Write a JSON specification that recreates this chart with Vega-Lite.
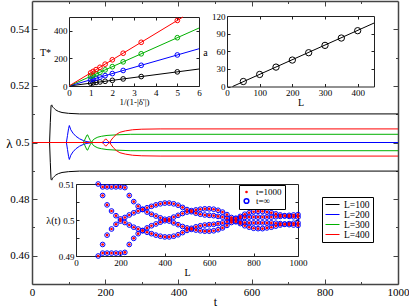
{
"$schema":"https://vega.github.io/schema/vega-lite/v6.json",
"width":366,"height":283,
"autosize":{"type":"none"},
"padding":{"left":32,"top":1,"right":11,"bottom":23},
"background":"white",
"config":{
 "view":{"stroke":null},
 "font":"Liberation Serif",
 "axis":{"labelFont":"Liberation Serif","titleFont":"Liberation Serif","labelColor":"#000","titleColor":"#000","titleFontWeight":"normal","grid":false,"labelFlush":false,"labelOverlap":false},
 "legend":{"labelFont":"Liberation Serif","labelColor":"#000"}
},
"datasets":{
 "main":[
  {"s":"L=100","b":"u","t":0,"v":0.5},{"s":"L=100","b":"u","t":48,"v":0.5},{"s":"L=100","b":"u","t":50,"v":0.507},{"s":"L=100","b":"u","t":52,"v":0.513},{"s":"L=100","b":"u","t":54,"v":0.5133},{"s":"L=100","b":"u","t":56,"v":0.5126},{"s":"L=100","b":"u","t":58,"v":0.5124},{"s":"L=100","b":"u","t":61,"v":0.512},{"s":"L=100","b":"u","t":65,"v":0.5115},{"s":"L=100","b":"u","t":72,"v":0.511},{"s":"L=100","b":"u","t":82,"v":0.5106},{"s":"L=100","b":"u","t":100,"v":0.5103},{"s":"L=100","b":"u","t":130,"v":0.5101},{"s":"L=100","b":"u","t":1000,"v":0.5101},
  {"s":"L=100","b":"d","t":0,"v":0.5},{"s":"L=100","b":"d","t":48,"v":0.5},{"s":"L=100","b":"d","t":50,"v":0.493},{"s":"L=100","b":"d","t":52,"v":0.487},{"s":"L=100","b":"d","t":54,"v":0.4867},{"s":"L=100","b":"d","t":56,"v":0.4874},{"s":"L=100","b":"d","t":58,"v":0.4876},{"s":"L=100","b":"d","t":61,"v":0.488},{"s":"L=100","b":"d","t":65,"v":0.4885},{"s":"L=100","b":"d","t":72,"v":0.489},{"s":"L=100","b":"d","t":82,"v":0.4894},{"s":"L=100","b":"d","t":100,"v":0.4897},{"s":"L=100","b":"d","t":130,"v":0.4899},{"s":"L=100","b":"d","t":1000,"v":0.4899},
  {"s":"L=200","b":"u","t":0,"v":0.5},{"s":"L=200","b":"u","t":94,"v":0.5},{"s":"L=200","b":"u","t":97,"v":0.5025},{"s":"L=200","b":"u","t":100,"v":0.505},{"s":"L=200","b":"u","t":102,"v":0.506},{"s":"L=200","b":"u","t":106,"v":0.5045},{"s":"L=200","b":"u","t":112,"v":0.5033},{"s":"L=200","b":"u","t":120,"v":0.5022},{"s":"L=200","b":"u","t":130,"v":0.5013},{"s":"L=200","b":"u","t":140,"v":0.5007},{"s":"L=200","b":"u","t":150,"v":0.5003},{"s":"L=200","b":"u","t":160,"v":0.5001},{"s":"L=200","b":"u","t":165,"v":0.5},{"s":"L=200","b":"u","t":1000,"v":0.5},
  {"s":"L=200","b":"d","t":0,"v":0.5},{"s":"L=200","b":"d","t":94,"v":0.5},{"s":"L=200","b":"d","t":97,"v":0.4975},{"s":"L=200","b":"d","t":100,"v":0.495},{"s":"L=200","b":"d","t":102,"v":0.494},{"s":"L=200","b":"d","t":106,"v":0.4955},{"s":"L=200","b":"d","t":112,"v":0.4967},{"s":"L=200","b":"d","t":120,"v":0.4978},{"s":"L=200","b":"d","t":130,"v":0.4987},{"s":"L=200","b":"d","t":140,"v":0.4993},{"s":"L=200","b":"d","t":150,"v":0.4997},{"s":"L=200","b":"d","t":160,"v":0.4999},{"s":"L=200","b":"d","t":165,"v":0.5},{"s":"L=200","b":"d","t":1000,"v":0.5},
  {"s":"L=300","b":"u","t":0,"v":0.5},{"s":"L=300","b":"u","t":140,"v":0.5},{"s":"L=300","b":"u","t":145,"v":0.5012},{"s":"L=300","b":"u","t":150,"v":0.5026},{"s":"L=300","b":"u","t":152,"v":0.5027},{"s":"L=300","b":"u","t":155,"v":0.5018},{"s":"L=300","b":"u","t":159,"v":0.5008},{"s":"L=300","b":"u","t":163,"v":0.5},{"s":"L=300","b":"u","t":166,"v":0.5008},{"s":"L=300","b":"u","t":172,"v":0.5014},{"s":"L=300","b":"u","t":180,"v":0.5019},{"s":"L=300","b":"u","t":190,"v":0.5022},{"s":"L=300","b":"u","t":205,"v":0.5025},{"s":"L=300","b":"u","t":230,"v":0.5027},{"s":"L=300","b":"u","t":270,"v":0.5029},{"s":"L=300","b":"u","t":1000,"v":0.5029},
  {"s":"L=300","b":"d","t":0,"v":0.5},{"s":"L=300","b":"d","t":140,"v":0.5},{"s":"L=300","b":"d","t":145,"v":0.4988},{"s":"L=300","b":"d","t":150,"v":0.4974},{"s":"L=300","b":"d","t":152,"v":0.4973},{"s":"L=300","b":"d","t":155,"v":0.4982},{"s":"L=300","b":"d","t":159,"v":0.4992},{"s":"L=300","b":"d","t":163,"v":0.5},{"s":"L=300","b":"d","t":166,"v":0.4992},{"s":"L=300","b":"d","t":172,"v":0.4986},{"s":"L=300","b":"d","t":180,"v":0.4981},{"s":"L=300","b":"d","t":190,"v":0.4978},{"s":"L=300","b":"d","t":205,"v":0.4975},{"s":"L=300","b":"d","t":230,"v":0.4973},{"s":"L=300","b":"d","t":270,"v":0.4971},{"s":"L=300","b":"d","t":1000,"v":0.4971},
  {"s":"L=400","b":"u","t":0,"v":0.5},{"s":"L=400","b":"u","t":192,"v":0.5},{"s":"L=400","b":"u","t":196,"v":0.5006},{"s":"L=400","b":"u","t":200,"v":0.5011},{"s":"L=400","b":"u","t":203,"v":0.5012},{"s":"L=400","b":"u","t":206,"v":0.5007},{"s":"L=400","b":"u","t":210,"v":0.5002},{"s":"L=400","b":"u","t":213,"v":0.5},{"s":"L=400","b":"u","t":216,"v":0.5008},{"s":"L=400","b":"u","t":222,"v":0.5018},{"s":"L=400","b":"u","t":230,"v":0.5028},{"s":"L=400","b":"u","t":240,"v":0.5036},{"s":"L=400","b":"u","t":255,"v":0.5041},{"s":"L=400","b":"u","t":275,"v":0.5045},{"s":"L=400","b":"u","t":300,"v":0.5047},{"s":"L=400","b":"u","t":350,"v":0.5048},{"s":"L=400","b":"u","t":1000,"v":0.5048},
  {"s":"L=400","b":"d","t":0,"v":0.5},{"s":"L=400","b":"d","t":192,"v":0.5},{"s":"L=400","b":"d","t":196,"v":0.4994},{"s":"L=400","b":"d","t":200,"v":0.4989},{"s":"L=400","b":"d","t":203,"v":0.4988},{"s":"L=400","b":"d","t":206,"v":0.4993},{"s":"L=400","b":"d","t":210,"v":0.4998},{"s":"L=400","b":"d","t":213,"v":0.5},{"s":"L=400","b":"d","t":216,"v":0.4992},{"s":"L=400","b":"d","t":222,"v":0.4982},{"s":"L=400","b":"d","t":230,"v":0.4972},{"s":"L=400","b":"d","t":240,"v":0.4964},{"s":"L=400","b":"d","t":255,"v":0.4959},{"s":"L=400","b":"d","t":275,"v":0.4955},{"s":"L=400","b":"d","t":300,"v":0.4953},{"s":"L=400","b":"d","t":350,"v":0.4952},{"s":"L=400","b":"d","t":1000,"v":0.4952}
 ],
 "ins1":[
  {"s":"L=100","x":1,"T":20.5},{"s":"L=100","x":1.111,"T":22.8},{"s":"L=100","x":1.25,"T":25.6},{"s":"L=100","x":1.429,"T":29.3},{"s":"L=100","x":1.667,"T":34.2},{"s":"L=100","x":2,"T":41},{"s":"L=100","x":2.5,"T":51.3},{"s":"L=100","x":3.333,"T":68.3},{"s":"L=100","x":5,"T":102.5},
  {"s":"L=200","x":1,"T":45},{"s":"L=200","x":1.111,"T":50},{"s":"L=200","x":1.25,"T":56.3},{"s":"L=200","x":1.429,"T":64.3},{"s":"L=200","x":1.667,"T":75},{"s":"L=200","x":2,"T":90},{"s":"L=200","x":2.5,"T":112.5},{"s":"L=200","x":3.333,"T":150},{"s":"L=200","x":5,"T":225},
  {"s":"L=300","x":1,"T":70},{"s":"L=300","x":1.111,"T":77.8},{"s":"L=300","x":1.25,"T":87.5},{"s":"L=300","x":1.429,"T":100},{"s":"L=300","x":1.667,"T":116.7},{"s":"L=300","x":2,"T":140},{"s":"L=300","x":2.5,"T":175},{"s":"L=300","x":3.333,"T":233.3},{"s":"L=300","x":5,"T":350},
  {"s":"L=400","x":1,"T":95},{"s":"L=400","x":1.111,"T":105.6},{"s":"L=400","x":1.25,"T":118.8},{"s":"L=400","x":1.429,"T":135.7},{"s":"L=400","x":1.667,"T":158.3},{"s":"L=400","x":2,"T":190},{"s":"L=400","x":2.5,"T":237.5},{"s":"L=400","x":3.333,"T":316.7},{"s":"L=400","x":5,"T":475}
 ],
 "ins1line":[
  {"s":"L=100","x":0,"T":0},{"s":"L=100","x":6,"T":123},
  {"s":"L=200","x":0,"T":0},{"s":"L=200","x":6,"T":270},
  {"s":"L=300","x":0,"T":0},{"s":"L=300","x":6,"T":420},
  {"s":"L=400","x":0,"T":0},{"s":"L=400","x":5.26,"T":500}
 ],
 "ins2":[
  {"L":50,"a":8.5},{"L":100,"a":20.5},{"L":150,"a":33},{"L":200,"a":45},{"L":250,"a":57.5},{"L":300,"a":70},{"L":350,"a":82.5},{"L":400,"a":95}
 ],
 "ins2line":[{"L":17,"a":0},{"L":450,"a":108}],
 "ins3":[
  {"L":100,"v":0.51},{"L":100,"v":0.49},
  {"L":120,"v":0.5092},{"L":120,"v":0.4908},{"L":120,"v":0.5068},{"L":120,"v":0.4932},
  {"L":140,"v":0.5092},{"L":140,"v":0.4908},{"L":140,"v":0.5042},{"L":140,"v":0.4958},
  {"L":160,"v":0.5092},{"L":160,"v":0.4908},{"L":160,"v":0.5025},{"L":160,"v":0.4975},
  {"L":180,"v":0.5092},{"L":180,"v":0.4908},{"L":180,"v":0.5012},{"L":180,"v":0.4988},
  {"L":200,"v":0.5092},{"L":200,"v":0.4908},{"L":200,"v":0.5003},{"L":200,"v":0.4997},
  {"L":220,"v":0.509},{"L":220,"v":0.491},{"L":220,"v":0.5007},{"L":220,"v":0.4993},
  {"L":240,"v":0.5068},{"L":240,"v":0.4932},{"L":240,"v":0.5014},{"L":240,"v":0.4986},
  {"L":260,"v":0.5051},{"L":260,"v":0.4949},{"L":260,"v":0.502},{"L":260,"v":0.498},
  {"L":280,"v":0.5038},{"L":280,"v":0.4962},{"L":280,"v":0.5025},{"L":280,"v":0.4975},
  {"L":300,"v":0.5029},{"L":300,"v":0.4971},{"L":300,"v":0.503},{"L":300,"v":0.497},
  {"L":320,"v":0.5022},{"L":320,"v":0.4978},{"L":320,"v":0.5034},{"L":320,"v":0.4966},
  {"L":340,"v":0.5016},{"L":340,"v":0.4984},{"L":340,"v":0.5038},{"L":340,"v":0.4962},
  {"L":360,"v":0.5011},{"L":360,"v":0.4989},{"L":360,"v":0.5042},{"L":360,"v":0.4958},
  {"L":380,"v":0.5006},{"L":380,"v":0.4994},{"L":380,"v":0.5045},{"L":380,"v":0.4955},
  {"L":400,"v":0.5002},{"L":400,"v":0.4998},{"L":400,"v":0.5047},{"L":400,"v":0.4953},
  {"L":420,"v":0.5003},{"L":420,"v":0.4997},{"L":420,"v":0.5047},{"L":420,"v":0.4953},
  {"L":440,"v":0.5008},{"L":440,"v":0.4992},{"L":440,"v":0.5045},{"L":440,"v":0.4955},
  {"L":460,"v":0.5013},{"L":460,"v":0.4987},{"L":460,"v":0.5041},{"L":460,"v":0.4959},
  {"L":480,"v":0.5018},{"L":480,"v":0.4982},{"L":480,"v":0.5035},{"L":480,"v":0.4965},
  {"L":500,"v":0.5022},{"L":500,"v":0.4978},{"L":500,"v":0.5029},{"L":500,"v":0.4971},
  {"L":520,"v":0.5026},{"L":520,"v":0.4974},{"L":520,"v":0.5023},{"L":520,"v":0.4977},
  {"L":540,"v":0.5028},{"L":540,"v":0.4972},{"L":540,"v":0.5019},{"L":540,"v":0.4981},
  {"L":560,"v":0.503},{"L":560,"v":0.497},{"L":560,"v":0.5016},{"L":560,"v":0.4984},
  {"L":580,"v":0.5031},{"L":580,"v":0.4969},{"L":580,"v":0.5014},{"L":580,"v":0.4986},
  {"L":600,"v":0.5031},{"L":600,"v":0.4969},{"L":600,"v":0.5013},{"L":600,"v":0.4987},
  {"L":620,"v":0.503},{"L":620,"v":0.497},{"L":620,"v":0.5012},{"L":620,"v":0.4988},
  {"L":640,"v":0.5027},{"L":640,"v":0.4973},{"L":640,"v":0.501},{"L":640,"v":0.499},
  {"L":660,"v":0.5022},{"L":660,"v":0.4978},{"L":660,"v":0.5008},{"L":660,"v":0.4992},
  {"L":680,"v":0.5015},{"L":680,"v":0.4985},{"L":680,"v":0.5005},{"L":680,"v":0.4995},
  {"L":700,"v":0.5007},{"L":700,"v":0.4993},{"L":700,"v":0.5002},{"L":700,"v":0.4998},
  {"L":720,"v":0.5003},{"L":720,"v":0.4997},{"L":720,"v":0.5005},{"L":720,"v":0.4995},
  {"L":740,"v":0.501},{"L":740,"v":0.499},{"L":740,"v":0.5006},{"L":740,"v":0.4994},
  {"L":760,"v":0.5016},{"L":760,"v":0.4984},{"L":760,"v":0.5007},{"L":760,"v":0.4993},
  {"L":780,"v":0.502},{"L":780,"v":0.498},{"L":780,"v":0.5008},{"L":780,"v":0.4992},
  {"L":800,"v":0.5023},{"L":800,"v":0.4977},{"L":800,"v":0.5008},{"L":800,"v":0.4992},
  {"L":820,"v":0.5024},{"L":820,"v":0.4976},{"L":820,"v":0.5008},{"L":820,"v":0.4992},
  {"L":840,"v":0.5024},{"L":840,"v":0.4976},{"L":840,"v":0.5008},{"L":840,"v":0.4992},
  {"L":860,"v":0.5022},{"L":860,"v":0.4978},{"L":860,"v":0.5008},{"L":860,"v":0.4992},
  {"L":880,"v":0.502},{"L":880,"v":0.498},{"L":880,"v":0.5008},{"L":880,"v":0.4992},
  {"L":900,"v":0.5017},{"L":900,"v":0.4983},{"L":900,"v":0.5009},{"L":900,"v":0.4991},
  {"L":920,"v":0.5014},{"L":920,"v":0.4986},{"L":920,"v":0.501},{"L":920,"v":0.499},
  {"L":940,"v":0.5012},{"L":940,"v":0.4988},{"L":940,"v":0.5011},{"L":940,"v":0.4989},
  {"L":960,"v":0.501},{"L":960,"v":0.499},{"L":960,"v":0.5013},{"L":960,"v":0.4987},
  {"L":980,"v":0.5009},{"L":980,"v":0.4991},{"L":980,"v":0.5014},{"L":980,"v":0.4986},
  {"L":1000,"v":0.5008},{"L":1000,"v":0.4992},{"L":1000,"v":0.5015},{"L":1000,"v":0.4985}
 ]
},
"layer":[
 {"data":{"name":"main"},
  "layer":[
   {"mark":{"type":"line","strokeWidth":1},
    "encoding":{
     "x":{"field":"t","type":"quantitative","scale":{"domain":[0,1000],"nice":false,"zero":false},
       "axis":{"orient":"bottom","values":[0,200,400,600,800,1000],"format":"d","tickSize":-5,"tickColor":"#444","labelPadding":7,"labelFontSize":11,"domainColor":"#444","domainWidth":1.5,"title":"t","titleFontSize":12,"titleY":17,"titleBaseline":"middle"}},
     "y":{"field":"v","type":"quantitative","scale":{"domain":[0.45,0.55],"nice":false,"zero":false},
       "axis":{"orient":"left","values":[0.46,0.48,0.5,0.52,0.54],"format":"~g","tickSize":-5,"tickColor":"#444","labelPadding":8,"labelFontSize":11,"domainColor":"#444","domainWidth":1.5,"title":"λ","titleAngle":0,"titleFontSize":13,"titleX":-23,"titleY":142,"titleAlign":"center","titleBaseline":"middle"}},
     "color":{"field":"s","type":"nominal","scale":{"domain":["L=100","L=200","L=300","L=400"],"range":["#000000","#0000ff","#00b000","#ff0000"]},
       "legend":{"orient":"none","legendX":290,"legendY":196,"title":null,"symbolType":"stroke","symbolSize":196,"symbolStrokeWidth":1,"labelFontSize":9.5,"labelOffset":4,"padding":3,"rowPadding":0,"clipHeight":9,"strokeColor":"#000","fillColor":"#fff"}},
     "detail":{"field":"b"}
    }},
   {"mark":{"type":"point","opacity":0},
    "encoding":{
     "x":{"field":"t","type":"quantitative","axis":{"orient":"bottom","values":[100,300,500,700,900],"tickSize":-2.5,"tickColor":"#444","labels":false,"domain":false,"title":null}},
     "y":{"field":"v","type":"quantitative","axis":{"orient":"left","values":[0.47,0.49,0.51,0.53],"tickSize":-2.5,"tickColor":"#444","labels":false,"domain":false,"title":null}}}},
   {"mark":{"type":"point","opacity":0},
    "encoding":{
     "x":{"field":"t","type":"quantitative","axis":{"orient":"top","values":[200,400,600,800],"tickSize":-5,"tickColor":"#444","labels":false,"domainColor":"#444","domainWidth":1.5,"title":null}},
     "y":{"field":"v","type":"quantitative","axis":{"orient":"right","values":[0.46,0.48,0.5,0.52,0.54],"tickSize":-5,"tickColor":"#444","labels":false,"domainColor":"#444","domainWidth":1.5,"title":null}}}},
   {"mark":{"type":"point","opacity":0},
    "encoding":{
     "x":{"field":"t","type":"quantitative","axis":{"orient":"top","values":[100,300,500,700,900],"tickSize":-2.5,"tickColor":"#444","labels":false,"domain":false,"title":null}},
     "y":{"field":"v","type":"quantitative","axis":{"orient":"right","values":[0.47,0.49,0.51,0.53],"tickSize":-2.5,"tickColor":"#444","labels":false,"domain":false,"title":null}}}}
  ],
  "resolve":{"axis":{"x":"independent","y":"independent"}}
 },
 {"layer":[
   {"data":{"name":"ins1line"},"mark":{"type":"line","strokeWidth":1},
    "encoding":{
     "x":{"field":"x","type":"quantitative","scale":{"domain":[0,6],"range":[37,167],"nice":false,"zero":false},
       "axis":{"orient":"bottom","offset":-198,"values":[0,1,2,3,4,5,6],"tickSize":-3,"labelPadding":5,"labelFontSize":9,"domainColor":"#222","tickColor":"#222","title":"1/(1-|δ'|)","titleFontSize":9,"titlePadding":0}},
     "y":{"field":"T","type":"quantitative","scale":{"domain":[0,500],"range":[85,16],"nice":false,"zero":false},
       "axis":{"orient":"left","offset":-37,"values":[0,200,400],"tickSize":-3,"labelPadding":5,"labelFontSize":9,"domainColor":"#222","tickColor":"#222","title":"T*","titleAngle":0,"titleFontSize":10,"titleX":-24,"titleY":51,"titleAlign":"center","titleBaseline":"middle"}},
     "color":{"field":"s","type":"nominal","scale":{"domain":["L=100","L=200","L=300","L=400"],"range":["#000000","#0000ff","#00b000","#ff0000"]},"legend":null}}},
   {"data":{"name":"ins1"},"mark":{"type":"point","size":22,"strokeWidth":1,"filled":false,"opacity":1},
    "encoding":{
     "x":{"field":"x","type":"quantitative","axis":null},
     "y":{"field":"T","type":"quantitative","axis":null},
     "color":{"field":"s","type":"nominal","legend":null}}},
   {"data":{"name":"ins1"},"mark":{"type":"point","opacity":0},
    "encoding":{
     "x":{"field":"x","type":"quantitative","axis":{"orient":"top","offset":-16,"values":[1,2,3,4,5],"tickSize":-3,"labels":false,"title":null,"domainColor":"#222","tickColor":"#222"}},
     "y":{"field":"T","type":"quantitative","axis":{"orient":"right","offset":-199,"values":[200,400],"tickSize":-3,"labels":false,"title":null,"domainColor":"#222","tickColor":"#222"}}}}
  ],
  "resolve":{"axis":{"x":"independent","y":"independent"}}
 },
 {"layer":[
   {"data":{"name":"ins2line"},"mark":{"type":"line","strokeWidth":1,"color":"#000"},
    "encoding":{
     "x":{"field":"L","type":"quantitative","scale":{"domain":[0,450],"range":[195,342],"nice":false,"zero":false},
       "axis":{"orient":"bottom","offset":-197.5,"values":[0,100,200,300,400],"tickSize":-3,"labelPadding":5,"labelFontSize":9,"domainColor":"#222","tickColor":"#222","title":"L","titleFontSize":10,"titlePadding":0}},
     "y":{"field":"a","type":"quantitative","scale":{"domain":[0,120],"range":[85.5,15],"nice":false,"zero":false},
       "axis":{"orient":"left","offset":-195,"values":[0,30,60,90,120],"tickSize":-3,"labelPadding":5,"labelFontSize":9,"domainColor":"#222","tickColor":"#222","title":"a","titleAngle":0,"titleFontSize":10,"titleX":-22,"titleY":51,"titleAlign":"center","titleBaseline":"middle"}}}},
   {"data":{"name":"ins2"},"mark":{"type":"point","size":40,"strokeWidth":1,"filled":false,"color":"#000","opacity":1},
    "encoding":{
     "x":{"field":"L","type":"quantitative","axis":null},
     "y":{"field":"a","type":"quantitative","axis":null}}},
   {"data":{"name":"ins2"},"mark":{"type":"point","opacity":0},
    "encoding":{
     "x":{"field":"L","type":"quantitative","axis":{"orient":"top","offset":-15,"values":[100,200,300,400],"tickSize":-3,"labels":false,"title":null,"domainColor":"#222","tickColor":"#222"}},
     "y":{"field":"a","type":"quantitative","axis":{"orient":"right","offset":-24,"values":[30,60,90],"tickSize":-3,"labels":false,"title":null,"domainColor":"#222","tickColor":"#222"}}}}
  ],
  "resolve":{"axis":{"x":"independent","y":"independent"}}
 },
 {"data":{"name":"ins3"},
  "layer":[
   {"mark":{"type":"point","filled":true,"strokeWidth":1,"opacity":1},
    "encoding":{
     "x":{"field":"L","type":"quantitative","scale":{"domain":[0,1000],"range":[44,266],"nice":false,"zero":false},
       "axis":{"orient":"bottom","offset":-28,"values":[0,200,400,600,800,1000],"format":"d","tickSize":-3,"labelPadding":5,"labelFontSize":9,"domainColor":"#222","tickColor":"#222","title":"L","titleFontSize":10,"titlePadding":0}},
     "y":{"field":"v","type":"quantitative","scale":{"domain":[0.49,0.51],"range":[255,183],"nice":false,"zero":false},
       "axis":{"orient":"left","offset":-44,"values":[0.49,0.495,0.5,0.505,0.51],"labelExpr":"(datum.value > 0.494 && datum.value < 0.496) || (datum.value > 0.504 && datum.value < 0.506) ? '' : datum.label","format":"~g","tickSize":-3,"labelPadding":5,"labelFontSize":9,"domainColor":"#222","tickColor":"#222","title":"λ(t)","titleAngle":0,"titleFontSize":10,"titleX":-23,"titleY":219,"titleAlign":"center","titleBaseline":"middle"}},
     "fill":{"datum":"t=∞","type":"nominal","scale":{"domain":["t=1000","t=∞"],"range":["#ff0000","transparent"]},
       "legend":{"orient":"none","legendX":207,"legendY":184,"title":null,"labelFontSize":9,"labelOffset":5,"padding":3,"rowPadding":-3,"clipHeight":8,"strokeColor":"#000","fillColor":"#fff"}},
     "stroke":{"datum":"t=∞","type":"nominal","scale":{"domain":["t=1000","t=∞"],"range":["transparent","#0000ff"]},
       "legend":{"orient":"none","legendX":207,"legendY":184,"title":null,"labelFontSize":9,"labelOffset":5,"padding":3,"rowPadding":-3,"clipHeight":8,"strokeColor":"#000","fillColor":"#fff"}},
     "size":{"datum":"t=∞","type":"nominal","scale":{"domain":["t=1000","t=∞"],"range":[7,22]},
       "legend":{"orient":"none","legendX":207,"legendY":184,"title":null,"labelFontSize":9,"labelOffset":5,"padding":3,"rowPadding":-3,"clipHeight":8,"strokeColor":"#000","fillColor":"#fff"}}
    }},
   {"mark":{"type":"point","filled":true,"strokeWidth":1,"opacity":1},
    "encoding":{
     "x":{"field":"L","type":"quantitative","axis":null},
     "y":{"field":"v","type":"quantitative","axis":null},
     "fill":{"datum":"t=1000","type":"nominal"},
     "stroke":{"datum":"t=1000","type":"nominal"},
     "size":{"datum":"t=1000","type":"nominal"}}},
   {"mark":{"type":"point","opacity":0},
    "encoding":{
     "x":{"field":"L","type":"quantitative","axis":{"orient":"top","offset":-183,"values":[200,400,600,800],"tickSize":-3,"labels":false,"title":null,"domainColor":"#222","tickColor":"#222"}},
     "y":{"field":"v","type":"quantitative","axis":{"orient":"right","offset":-100,"values":[0.495,0.5,0.505],"tickSize":-3,"labels":false,"title":null,"domainColor":"#222","tickColor":"#222"}}}}
  ],
  "resolve":{"axis":{"x":"independent","y":"independent"}}
 }
],
"resolve":{"scale":{"x":"independent","y":"independent","color":"independent"},"axis":{"x":"independent","y":"independent"},"legend":{"color":"independent"}}
}
